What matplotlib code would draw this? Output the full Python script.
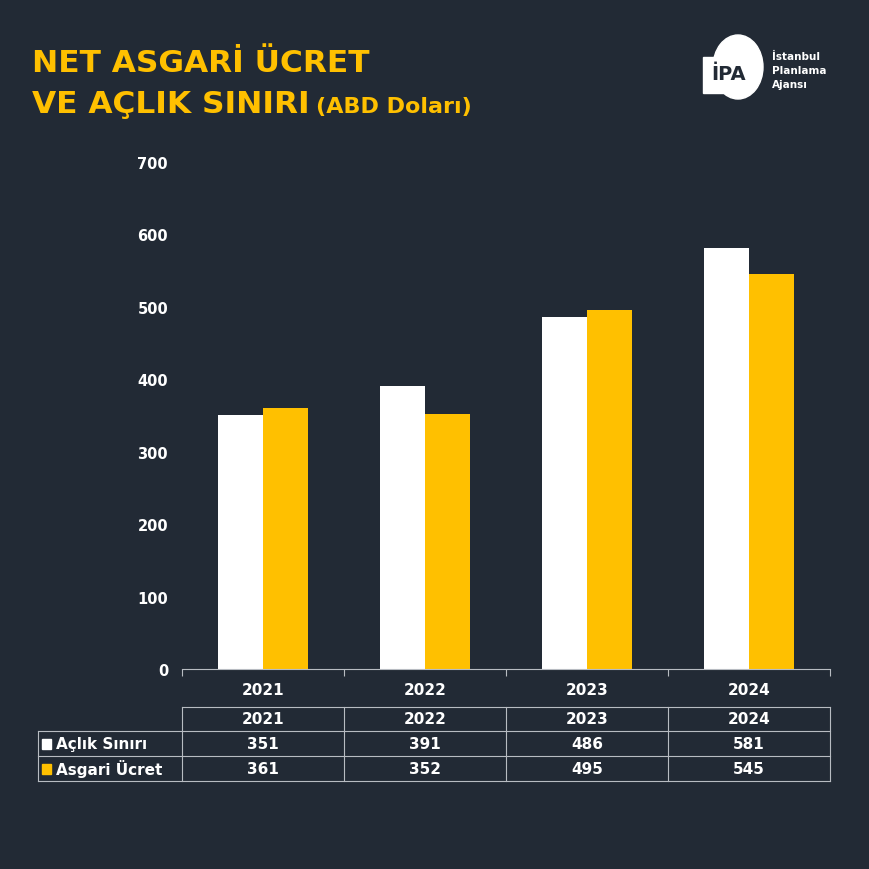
import matplotlib.pyplot as plt
import numpy as np
from matplotlib.patches import Rectangle, Ellipse

years = ["2021", "2022", "2023", "2024"]
aclik = [351, 391, 486, 581]
asgari = [361, 352, 495, 545]
series_names = ["Açlık Sınırı", "Asgari Ücret"]

bg = "#222a35"
yellow = "#ffc000"
grid = "#b8bcc2"
font = "DejaVu Sans"

plt.rcParams['font.family'] = [font]
fig = plt.figure(figsize=(8.7, 8.7), dpi=100, facecolor=bg)

# overlay axes in pixel coords for text/table
ov = fig.add_axes([0, 0, 1, 1])
ov.set_xlim(0, 870)
ov.set_ylim(870, 0)
ov.axis("off")
ov.set_facecolor("none")

# main bar chart
ax = fig.add_axes([182/870, 1-670/870, 648/870, 507/870])
ax.set_facecolor(bg)
x = np.arange(len(years))
w = 0.28
ax.bar(x - w/2, aclik, w, color="white")
ax.bar(x + w/2, asgari, w, color=yellow)
ax.set_xlim(-0.5, len(years) - 0.5)
ax.set_ylim(0, 700)
ax.set_yticks(range(0, 701, 100))
ax.set_yticklabels([str(v) for v in range(0, 701, 100)], color="white",
                   fontsize=10.5, fontweight="bold")
ax.tick_params(axis="y", length=0, pad=10)
ax.set_xticks(np.arange(-0.5, len(years)), minor=False)
ax.set_xticklabels([])
ax.tick_params(axis="x", length=5, color=grid, direction="out")
for s in ["top", "right", "left"]:
    ax.spines[s].set_visible(False)
ax.spines["bottom"].set_color(grid)
ax.spines["bottom"].set_linewidth(0.8)
for i, yr in enumerate(years):
    ax.annotate(yr, (i, 0), xytext=(0, -14.5), textcoords="offset points",
                ha="center", va="center", color="white", fontsize=11, fontweight="bold")

# title
ov.text(32, 72, "NET ASGARİ ÜCRET", color=yellow, fontsize=22.5, fontweight="bold",
        ha="left", va="baseline")
ov.text(32, 113, "VE AÇLIK SINIRI", color=yellow, fontsize=22.5, fontweight="bold",
        ha="left", va="baseline")
ov.text(316, 113, "(ABD Doları)", color=yellow, fontsize=16, fontweight="bold",
        ha="left", va="baseline")

# logo
ov.add_patch(Ellipse((738, 68), 50, 64, color="white"))
ov.add_patch(Rectangle((703, 58), 28, 36, color="white"))
ov.text(729, 74, "İPA", color=bg, fontsize=14, fontweight="bold", ha="center", va="center")
for j, line in enumerate(["İstanbul", "Planlama", "Ajansı"]):
    ov.text(772, 57 + j * 14, line, color="white", fontsize=7.5, fontweight="bold",
            ha="left", va="center")

# table
cols = [182, 344, 506, 668, 830]
rows = [708, 732, 757, 782]
lc = grid
lw = 0.8
ov.plot([182, 830], [rows[0], rows[0]], color=lc, lw=lw)
for r in rows[1:]:
    ov.plot([38, 830], [r, r], color=lc, lw=lw)
for c in cols:
    ov.plot([c, c], [rows[0], rows[3]], color=lc, lw=lw)
ov.plot([38, 38], [rows[1], rows[3]], color=lc, lw=lw)
for i, yr in enumerate(years):
    cx = (cols[i] + cols[i+1]) / 2
    ov.text(cx, (rows[0] + rows[1]) / 2, yr, color="white", fontsize=11,
            fontweight="bold", ha="center", va="center")
    ov.text(cx, (rows[1] + rows[2]) / 2, str(aclik[i]), color="white", fontsize=11,
            fontweight="bold", ha="center", va="center")
    ov.text(cx, (rows[2] + rows[3]) / 2, str(asgari[i]), color="white", fontsize=11,
            fontweight="bold", ha="center", va="center")
for k, (name, colr) in enumerate(zip(series_names, ["white", yellow])):
    cy = (rows[k+1] + rows[k+2]) / 2
    ov.add_patch(Rectangle((42, cy - 5), 9, 10, color=colr))
    ov.text(56, cy, name, color="white", fontsize=11, fontweight="bold",
            ha="left", va="center")

fig.savefig("out.png", dpi=100, facecolor=bg)
